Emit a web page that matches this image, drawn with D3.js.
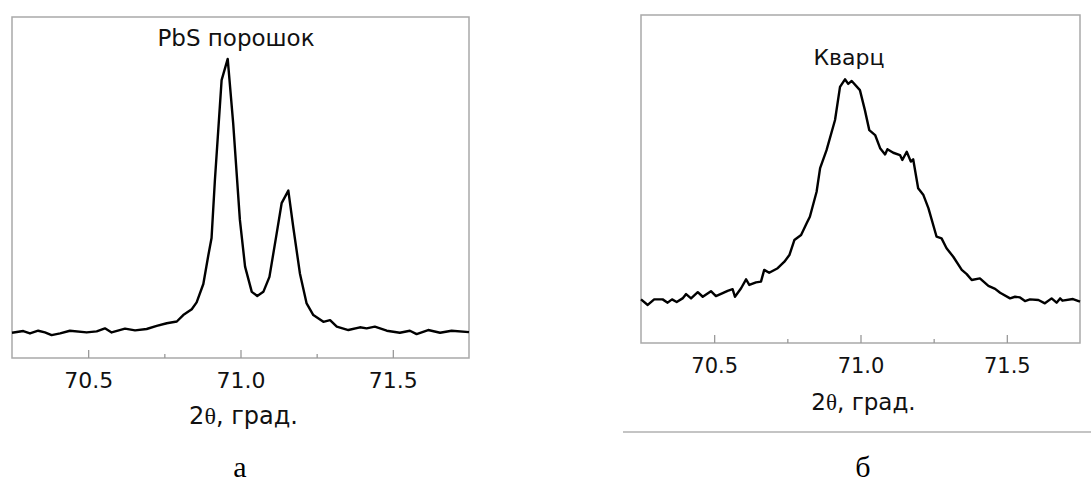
<!DOCTYPE html>
<html>
<head>
<meta charset="utf-8">
<script src="https://cdn.jsdelivr.net/npm/d3@7"></script>
<style>
  body { margin: 0; background: #fff; }
  svg { display: block; }
</style>
</head>
<body>
<svg id="chart" width="1091" height="485"></svg>
<script>
// PbS powder, 2theta (deg) and intensity (a.u.)
var pbsAngle = [70.250, 70.287, 70.309, 70.336, 70.358, 70.380, 70.408, 70.440, 70.495, 70.528,
                70.555, 70.577, 70.621, 70.654, 70.692, 70.725, 70.758, 70.791, 70.812, 70.840,
                70.856, 70.878, 70.894, 70.905, 70.916, 70.938, 70.958, 70.976, 70.998, 71.015,
                71.037, 71.055, 71.075, 71.095, 71.117, 71.135, 71.157, 71.173, 71.195, 71.217,
                71.239, 71.272, 71.294, 71.316, 71.354, 71.392, 71.414, 71.441, 71.480, 71.523,
                71.556, 71.578, 71.616, 71.655, 71.693, 71.750];
var pbsIntensity = [7.4, 7.9, 7.2, 8.0, 7.5, 6.7, 7.2, 8.0, 7.5, 7.8,
                    8.7, 7.5, 8.6, 8.1, 8.5, 9.4, 10.2, 10.7, 12.6, 14.3,
                    16.3, 21.7, 29.9, 35.2, 52.2, 81.5, 87.7, 68.8, 40.5, 26.8,
                    19.4, 18.2, 19.4, 23.8, 35.6, 45.4, 49.1, 38.5, 24.8, 16.0,
                    12.6, 10.6, 11.1, 9.2, 8.2, 9.0, 8.7, 9.2, 8.0, 7.4,
                    8.0, 7.0, 8.2, 7.4, 8.0, 7.6];

// quartz
var qAngle = [70.250, 70.273, 70.295, 70.324, 70.341, 70.356, 70.372, 70.392, 70.404, 70.421,
              70.444, 70.461, 70.489, 70.506, 70.531, 70.546, 70.563, 70.571, 70.592, 70.609,
              70.620, 70.643, 70.660, 70.671, 70.688, 70.717, 70.740, 70.757, 70.774, 70.797,
              70.816, 70.827, 70.850, 70.862, 70.884, 70.913, 70.930, 70.947, 70.958, 70.970,
              70.998, 71.015, 71.030, 71.050, 71.067, 71.084, 71.092, 71.112, 71.135, 71.143,
              71.158, 71.172, 71.180, 71.197, 71.215, 71.232, 71.260, 71.277, 71.294, 71.317,
              71.346, 71.363, 71.380, 71.408, 71.437, 71.460, 71.477, 71.511, 71.528, 71.545,
              71.562, 71.579, 71.608, 71.630, 71.653, 71.670, 71.682, 71.690, 71.726, 71.750];
var qIntensity = [13.3, 11.6, 13.3, 13.3, 12.3, 13.3, 12.5, 13.6, 14.9, 13.6,
                  15.5, 14.1, 15.8, 14.3, 15.3, 15.9, 16.4, 14.1, 16.7, 19.4,
                  17.7, 18.5, 18.7, 22.3, 21.4, 22.8, 24.8, 26.8, 31.4, 32.9,
                  36.5, 38.5, 46.1, 53.3, 58.8, 68.0, 78.1, 80.4, 79.0, 79.9,
                  77.1, 71.0, 64.9, 63.4, 59.4, 57.5, 59.1, 58.0, 57.3, 55.8,
                  58.3, 55.3, 56.0, 47.2, 45.1, 41.1, 32.4, 31.9, 28.9, 26.3,
                  22.3, 21.0, 19.2, 19.7, 17.4, 16.5, 15.3, 13.6, 14.1, 13.9,
                  12.8, 13.3, 13.1, 12.1, 13.6, 12.3, 13.6, 12.9, 13.4, 12.6];

var xDomain = [70.25, 71.75];
var majorTicks = [70.5, 71.0, 71.5];
var minorTicks = [70.75, 71.25];
var xLabel = ["2", "θ", ", град."];

var svg = d3.select("#chart");

// one panel = frame + curve + ticks + texts
function drawPanel(p) {
    var g = svg.append("g");
    var x = d3.scaleLinear().domain(xDomain).range([p.left, p.right]);
    var y = d3.scaleLinear().domain([0, 100]).range([p.bottom, p.top]);

    g.append("rect")
        .attr("x", p.left).attr("y", p.top)
        .attr("width", p.right - p.left).attr("height", p.bottom - p.top)
        .attr("fill", "none").attr("stroke", "#a9a9a9").attr("stroke-width", 1.5);

    var line = d3.line()
        .x(function(d) { return x(d[0]); })
        .y(function(d) { return y(d[1]); });

    g.append("path")
        .datum(d3.zip(p.angle, p.intensity))
        .attr("d", line)
        .attr("fill", "none")
        .attr("stroke", "#000")
        .attr("stroke-width", 2.4)
        .attr("stroke-linejoin", "round");

    // major ticks, pointing into the plot
    var ax = g.append("g")
        .attr("transform", "translate(0," + p.bottom + ")")
        .call(d3.axisBottom(x).tickValues(majorTicks)
            .tickFormat(d3.format(".1f"))
            .tickSizeInner(-p.tick).tickSizeOuter(0).tickPadding(p.pad));
    ax.select(".domain").remove();
    ax.selectAll("line").attr("stroke", "#999").attr("stroke-width", 1.3);
    ax.selectAll("text")
        .attr("font-family", "DejaVu Sans, Verdana, sans-serif")
        .attr("font-size", p.tickFont).attr("fill", "#111");

    var mn = g.append("g")
        .attr("transform", "translate(0," + p.bottom + ")")
        .call(d3.axisBottom(x).tickValues(minorTicks).tickFormat("")
            .tickSizeInner(-p.tick / 2).tickSizeOuter(0));
    mn.select(".domain").remove();
    mn.selectAll("line").attr("stroke", "#999").attr("stroke-width", 1.3);

    var lab = g.append("text")
        .attr("x", (p.left + p.right) / 2 + 3)
        .attr("y", p.labelY)
        .attr("text-anchor", "middle")
        .attr("font-family", "DejaVu Sans, Verdana, sans-serif")
        .attr("font-size", p.labelFont).attr("fill", "#111");
    lab.append("tspan").text(xLabel[0]);
    lab.append("tspan").attr("font-family", "Liberation Serif, serif").text(xLabel[1]);
    lab.append("tspan").text(xLabel[2]);

    g.append("text")
        .attr("x", p.titleX).attr("y", p.titleY)
        .attr("text-anchor", "middle")
        .attr("font-family", "DejaVu Sans, Verdana, sans-serif")
        .attr("font-size", p.titleFont).attr("fill", "#111")
        .text(p.title);

    g.append("text")
        .attr("x", p.captionX).attr("y", 477)
        .attr("text-anchor", "middle")
        .attr("font-family", "Liberation Serif, Times New Roman, serif")
        .attr("font-size", 30).attr("fill", "#000")
        .text(p.caption);
}

drawPanel({
    left: 12, right: 469, top: 17, bottom: 358,
    angle: pbsAngle, intensity: pbsIntensity,
    tick: 8, pad: 14, tickFont: 22, labelFont: 24, labelY: 424,
    title: "PbS порошок", titleX: 236, titleY: 46, titleFont: 23,
    caption: "а", captionX: 240
});

drawPanel({
    left: 641, right: 1080, top: 15, bottom: 343,
    angle: qAngle, intensity: qIntensity,
    tick: 8, pad: 15, tickFont: 21, labelFont: 23, labelY: 410,
    title: "Кварц", titleX: 849, titleY: 65, titleFont: 22,
    caption: "б", captionX: 863
});

// thin rule under the right panel
svg.append("line")
    .attr("x1", 623).attr("x2", 1091)
    .attr("y1", 432).attr("y2", 432)
    .attr("stroke", "#b0b0b0").attr("stroke-width", 1.3);
</script>
</body>
</html>
